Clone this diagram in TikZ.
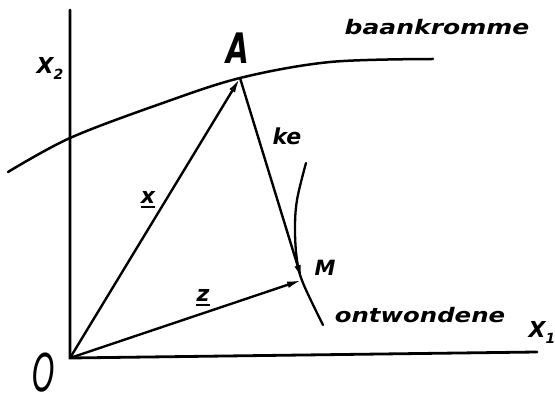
\documentclass[tikz,border=0pt]{standalone}
\usepackage{fontspec}
\newfontfamily\hand{DejaVu Sans}
\usetikzlibrary{arrows.meta}
\tikzset{
  axis/.style={line width=2.8pt, line cap=round},
  curve/.style={line width=2.5pt, line cap=round},
  vec/.style={line width=2.4pt, -{Latex[length=15pt,width=6.5pt]}},
  lbl/.style={font=\hand\bfseries\itshape, inner sep=0pt},
}
\newcommand{\lsub}[1]{\raisebox{-6pt}{\fontsize{14}{14}\selectfont #1}}
\begin{document}
\begin{tikzpicture}[x=1pt,y=-1pt]
\useasboundingbox (0,0) rectangle (555,403);
\coordinate (O) at (70,358);
\coordinate (A) at (240,78);
\coordinate (M) at (302,280);
\coordinate (Ytop) at (70,10);
\coordinate (Xend) at (537,352);
% axes
\draw[axis] (Ytop) -- (O) -- (Xend);
% path curve
\draw[curve] plot[smooth, tension=0.55] coordinates {(8,172) (70,138) (160,104) (240,78) (330,62) (433,59)};
% evolute
\draw[curve, line width=2.3pt] plot[smooth, tension=0.6] coordinates {(306,163) (297,200) (295,230) (297,260) (303,283) (323,325)};
% vectors
\draw[vec] (O) -- (A);
\draw[vec] (A) -- (M);
\draw[vec] (O) -- (M);
% labels
\node[lbl, font=\hand\bfseries\itshape\fontsize{22}{22}\selectfont] (lx2) at (50,68) {X\lsub{2}};
\node[lbl, font=\hand\bfseries\itshape\fontsize{22}{22}\selectfont] (lx1) at (542,332) {X\lsub{1}};
\node[lbl, font=\hand\bfseries\itshape\fontsize{42}{42}\selectfont] (lA) at (238,48) {\scalebox{0.7}[1]{A}};
\node[lbl, font=\hand\itshape\fontsize{52}{52}\selectfont, text depth=0pt] (lO) at (44,372) {\scalebox{0.55}[1]{O}};
\node[lbl, font=\hand\bfseries\itshape\fontsize{20}{20}\selectfont] (lb) at (437,27) {\scalebox{1.25}[1]{baankromme}};
\node[lbl, font=\hand\bfseries\itshape\fontsize{20}{20}\selectfont] (lo) at (420,315) {\scalebox{1.22}[1]{ontwondene}};
\node[lbl, font=\hand\bfseries\itshape\fontsize{21}{21}\selectfont] (lM) at (325,268) {M};
\node[lbl, font=\hand\bfseries\itshape\fontsize{22}{22}\selectfont] (lk) at (287,136) {ke};
\node[lbl, font=\hand\bfseries\itshape\fontsize{22}{22}\selectfont] (lxv) at (148,197) {x};
\draw[line width=2.2pt] ([yshift=-4pt]lxv.south west) -- ([yshift=-4pt]lxv.south east);
\node[lbl, font=\hand\bfseries\itshape\fontsize{22}{22}\selectfont] (lz) at (203,295) {z};
\draw[line width=2.2pt] ([yshift=-4pt]lz.south west) -- ([yshift=-4pt]lz.south east);
\end{tikzpicture}
\end{document}
